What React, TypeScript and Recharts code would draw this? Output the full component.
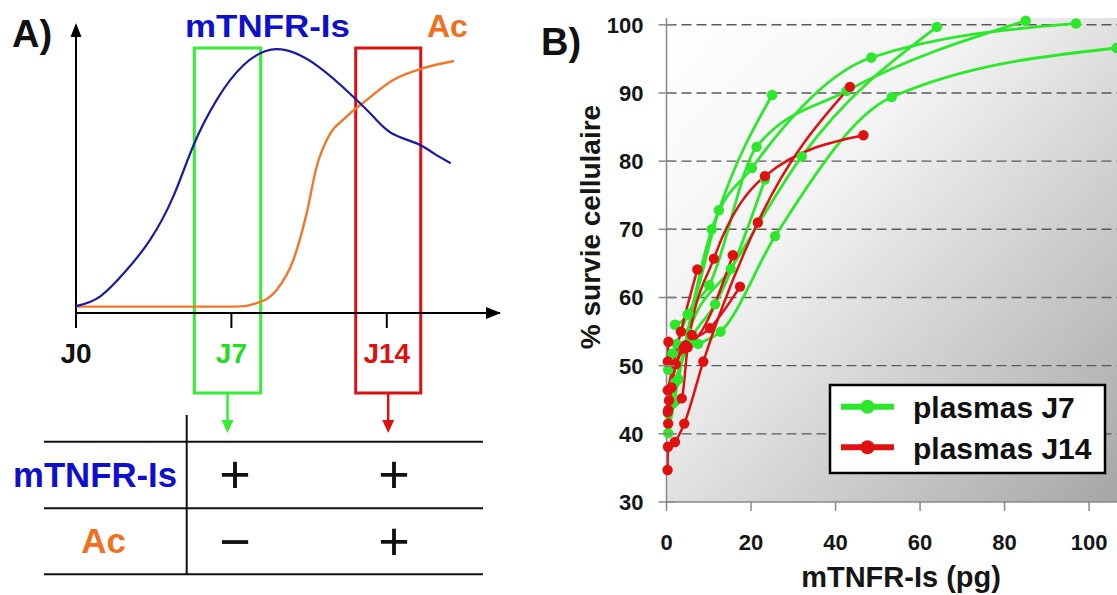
import React from 'react';
import { LineChart, Line, XAxis, YAxis, CartesianGrid, ReferenceArea, ReferenceLine } from 'recharts';

const FONT = "'Liberation Sans', Arial, Helvetica, sans-serif";

// ---------- Panel A (schematic kinetics) ----------
const kineticDays = [0, 7, 14];
const kineticLabels = ['J0', 'J7', 'J14'];
const kineticLabelColors = ['#111111', '#22dd22', '#dd1111'];
const mtnfrCurve = [
  { d: 0, v: 2.4 }, { d: 1.08, v: 5.7 }, { d: 2.28, v: 14.9 }, { d: 3.33, v: 25.3 },
  { d: 4.38, v: 40.4 }, { d: 5.28, v: 58 }, { d: 6.34, v: 74 }, { d: 7.54, v: 86 },
  { d: 9.04, v: 91.6 }, { d: 10.84, v: 86 }, { d: 12.49, v: 75.1 }, { d: 13.39, v: 68.2 },
  { d: 14.22, v: 62.4 }, { d: 15.35, v: 58.9 }, { d: 16.1, v: 55.5 }, { d: 16.88, v: 52 },
];
const acCurve = [
  { d: 0, v: 2.2 }, { d: 7.24, v: 2.2 }, { d: 8.14, v: 3.4 }, { d: 9.04, v: 8 },
  { d: 9.79, v: 18.4 }, { d: 10.39, v: 34.6 }, { d: 10.84, v: 50.8 }, { d: 11.29, v: 60 },
  { d: 12.19, v: 68.2 }, { d: 13.1, v: 74 }, { d: 14.29, v: 80.9 }, { d: 15.64, v: 85 },
  { d: 17.03, v: 87.5 },
];
const windowJ7 = [5.33, 8.32];
const windowJ14 = [12.6, 15.53];
const windowSpan = [-27.8, 92];
const tableRows = ['mTNFR-Is', 'Ac'];
const tableRowColors = ['#1010cc', '#f07020'];
const tableJ7 = ['+', '\u2212'];
const tableJ14 = ['+', '+'];

// ---------- Panel B (survival vs mTNFR-Is) ----------
const survivalTicks = [30, 40, 50, 60, 70, 80, 90, 100];
const doseTicks = [0, 20, 40, 60, 80, 100];
const legendLabels = ['plasmas J7', 'plasmas J14'];

const j7Plasma1 = [
  { x: 1.6, y: 44.5 }, { x: 5.2, y: 54.8 }, { x: 15.2, y: 64.2 }, { x: 32.0, y: 80.7 }, { x: 64.0, y: 99.7 },
];
const j7Plasma2 = [
  { x: 0.4, y: 49.4 }, { x: 2.4, y: 53.2 }, { x: 5.0, y: 57.5 }, { x: 10.1, y: 61.8 },
  { x: 21.3, y: 82.1 }, { x: 42.6, y: 90.3 }, { x: 85.0, y: 100.6 },
];
const j7Plasma3 = [
  { x: 0.4, y: 40.1 }, { x: 2.8, y: 48.0 }, { x: 10.7, y: 70.0 }, { x: 20.2, y: 79.0 },
  { x: 48.5, y: 95.2 }, { x: 96.9, y: 100.2 },
];
const j7Plasma4 = [
  { x: 1.4, y: 51.8 }, { x: 7.5, y: 53.2 }, { x: 12.8, y: 55.0 }, { x: 25.7, y: 69.0 },
  { x: 53.3, y: 89.4 }, { x: 106.5, y: 96.6 },
];
const j7Plasma5 = [
  { x: 2.0, y: 56.0 }, { x: 5.2, y: 57.6 }, { x: 12.4, y: 72.8 }, { x: 25.0, y: 89.7 },
];
const j7Plasma6 = [
  { x: 0.4, y: 43.0 }, { x: 2.0, y: 47.5 }, { x: 5.5, y: 53.5 }, { x: 11.5, y: 59.0 }, { x: 23.3, y: 77.3 },
];

const j14Plasma1 = [
  { x: 0.25, y: 34.7 }, { x: 0.35, y: 38.1 }, { x: 2.0, y: 38.8 }, { x: 4.2, y: 41.5 },
  { x: 8.7, y: 50.6 }, { x: 21.6, y: 71.0 }, { x: 43.4, y: 90.9 },
];
const j14Plasma2 = [
  { x: 0.4, y: 43.5 }, { x: 3.6, y: 45.2 }, { x: 5.0, y: 52.7 }, { x: 11.2, y: 65.7 },
  { x: 23.3, y: 77.8 }, { x: 46.6, y: 83.8 },
];
const j14Plasma3 = [
  { x: 0.3, y: 46.4 }, { x: 3.4, y: 55.0 }, { x: 7.3, y: 64.1 },
];
const j14Plasma4 = [
  { x: 0.4, y: 41.5 }, { x: 0.6, y: 44.9 }, { x: 4.0, y: 52.5 }, { x: 10.3, y: 55.5 }, { x: 17.4, y: 61.6 },
];
const j14Plasma5 = [
  { x: 0.3, y: 50.6 }, { x: 0.45, y: 53.5 }, { x: 4.5, y: 53.0 }, { x: 15.7, y: 66.2 },
];
const j14Plasma6 = [
  { x: 0.3, y: 43.2 }, { x: 1.2, y: 46.8 }, { x: 2.2, y: 50.2 }, { x: 6.0, y: 54.5 },
];

const j7Series = [j7Plasma1, j7Plasma2, j7Plasma3, j7Plasma4, j7Plasma5, j7Plasma6];
const j14Series = [j14Plasma1, j14Plasma2, j14Plasma3, j14Plasma4, j14Plasma5, j14Plasma6];

const GREEN = '#2be82b';
const RED = '#e01010';

const ATick = (props: any) => {
  const { x, y, payload } = props;
  const i = kineticDays.indexOf(payload.value);
  return (
    <g>
      <line x1={x} x2={x} y1={y} y2={y + 15} stroke="#000" strokeWidth={2} />
      <text x={x} y={y + 50} textAnchor="middle" fontSize={28} fontWeight="bold" fontFamily={FONT}
        fill={kineticLabelColors[i]}>{kineticLabels[i]}</text>
    </g>
  );
};

const BXTick = (props: any) => {
  const { x, y, payload } = props;
  return (
    <g>
      <line x1={x} x2={x} y1={y} y2={y + 9} stroke="#888" strokeWidth={1.5} />
      <text x={x} y={y + 48} textAnchor="middle" fontSize={22} fontWeight="bold" fontFamily={FONT}
        fill="#161616">{payload.value}</text>
    </g>
  );
};

const BYTick = (props: any) => {
  const { x, y, payload } = props;
  return (
    <g>
      <line x1={x - 8} x2={x + 8} y1={y} y2={y} stroke="#888" strokeWidth={1.5} />
      <text x={x - 23} y={y + 8} textAnchor="end" fontSize={22} fontWeight="bold" fontFamily={FONT}
        fill="#161616">{payload.value}</text>
    </g>
  );
};

export default function App() {
  return (
    <div style={{ position: 'absolute', left: 0, top: 0, width: 1117, height: 595, background: '#fff', overflow: 'hidden' }}>
      <svg width={0} height={0} style={{ position: 'absolute' }}>
        <defs>
          <linearGradient id="plotShade" x1="0" y1="0" x2="1" y2="1">
            <stop offset="0" stopColor="#ffffff" />
            <stop offset="0.35" stopColor="#f3f3f3" />
            <stop offset="1" stopColor="#a6a6a6" />
          </linearGradient>
        </defs>
      </svg>

      {/* Panel A */}
      <div style={{ position: 'absolute', left: 0, top: 0 }}>
        <LineChart width={520} height={595} margin={{ top: 25, right: 20, bottom: 242, left: 76 }}>
          <XAxis type="number" dataKey="d" domain={[0, 19.1]} ticks={kineticDays} interval={0} height={40}
            axisLine={{ stroke: '#000', strokeWidth: 2 }} tickLine={false} tickSize={0} tickMargin={0} tick={<ATick />} />
          <YAxis type="number" domain={[0, 100]} width={0} tick={false} tickLine={false} axisLine={false} />
          <ReferenceLine x={0} stroke="#000" strokeWidth={2} ifOverflow="visible" />
          <Line data={acCurve} dataKey="v" type="monotone" stroke="#f07828" strokeWidth={2.4} dot={false} isAnimationActive={false} />
          <Line data={mtnfrCurve} dataKey="v" type="natural" stroke="#1a1aa8" strokeWidth={2.2} dot={false} isAnimationActive={false} />
          <ReferenceArea x1={windowJ7[0]} x2={windowJ7[1]} y1={windowSpan[0]} y2={windowSpan[1]} ifOverflow="visible"
            fill="none" fillOpacity={0} stroke="#33ee33" strokeWidth={3} />
          <ReferenceArea x1={windowJ14[0]} x2={windowJ14[1]} y1={windowSpan[0]} y2={windowSpan[1]} ifOverflow="visible"
            fill="none" fillOpacity={0} stroke="#dd1111" strokeWidth={3} />
        </LineChart>
      </div>

      {/* Panel B */}
      <div style={{ position: 'absolute', left: 520, top: 0 }}>
        <LineChart width={597} height={595} margin={{ top: 18, right: 0, bottom: 43, left: 86.5 }}>
          <CartesianGrid vertical={false} horizontal={false} fill="url(#plotShade)" fillOpacity={1} />
          <XAxis type="number" dataKey="x" domain={[0, 106.6]} ticks={doseTicks} interval={0} height={50}
            axisLine={{ stroke: '#888', strokeWidth: 1.5 }} tickLine={false} tickSize={0} tickMargin={0} tick={<BXTick />} />
          <YAxis type="number" domain={[30, 101]} ticks={survivalTicks} interval={0} width={60}
            axisLine={{ stroke: '#888', strokeWidth: 1.5 }} tickLine={false} tickSize={0} tickMargin={0} tick={<BYTick />} />
          {survivalTicks.filter((t) => t > 30).map((t) => (
            <ReferenceLine key={'gl' + t} y={t} stroke="#5a5a5a" strokeDasharray="10 5" strokeWidth={1.4} />
          ))}
          {j7Series.map((s, i) => (
            <Line key={'g' + i} data={s} dataKey="y" type="monotone" stroke={GREEN} strokeWidth={2.8}
              dot={{ r: 5.2, fill: GREEN, stroke: 'none' }} isAnimationActive={false} />
          ))}
          {j14Series.map((s, i) => (
            <Line key={'r' + i} data={s} dataKey="y" type="monotone" stroke={RED} strokeWidth={2.5}
              dot={{ r: 5.2, fill: RED, stroke: 'none' }} isAnimationActive={false} />
          ))}
        </LineChart>
      </div>

      {/* Annotations */}
      <svg width={1117} height={595} style={{ position: 'absolute', left: 0, top: 0, pointerEvents: 'none' }} fontFamily={FONT}>
        {/* Panel A titles */}
        <text x={12} y={47} fontSize={38} fontWeight="bold" fill="#111">A)</text>
        <text x={185} y={37} fontSize={31} fontWeight="bold" fill="#1010cc" textLength={165} lengthAdjust="spacingAndGlyphs">mTNFR-Is</text>
        <text x={427} y={37} fontSize={32} fontWeight="bold" fill="#f07020">Ac</text>
        {/* axis arrows */}
        <polygon points="76,23 70.5,37 81.5,37" fill="#000" />
        <polygon points="501,313 486,307 486,319" fill="#000" />
        {/* arrows from windows */}
        <line x1={227.5} x2={227.5} y1={393} y2={422} stroke="#33ee33" strokeWidth={2.5} />
        <polygon points="221.5,420 233.5,420 227.5,433" fill="#33ee33" />
        <line x1={388.2} x2={388.2} y1={393} y2={422} stroke="#dd1111" strokeWidth={2.5} />
        <polygon points="382.2,420 394.2,420 388.2,433" fill="#dd1111" />
        {/* table */}
        <line x1={44} x2={483} y1={441.7} y2={441.7} stroke="#111" strokeWidth={2} />
        <line x1={44} x2={483} y1={508.3} y2={508.3} stroke="#111" strokeWidth={2} />
        <line x1={44} x2={483} y1={574.3} y2={574.3} stroke="#111" strokeWidth={2} />
        <line x1={186.7} x2={186.7} y1={415} y2={575} stroke="#111" strokeWidth={2} />
        <text x={13} y={486.7} fontSize={35} fontWeight="bold" fill={tableRowColors[0]} textLength={164} lengthAdjust="spacingAndGlyphs">{tableRows[0]}</text>
        <text x={103.5} y={552.7} fontSize={35} fontWeight="bold" fill={tableRowColors[1]} textAnchor="middle">{tableRows[1]}</text>
        <text x={235} y={493} fontSize={54} fill="#111" textAnchor="middle">{tableJ7[0]}</text>
        <text x={235} y={560} fontSize={54} fill="#111" textAnchor="middle">{tableJ7[1]}</text>
        <text x={394} y={493} fontSize={54} fill="#111" textAnchor="middle">{tableJ14[0]}</text>
        <text x={394} y={560} fontSize={54} fill="#111" textAnchor="middle">{tableJ14[1]}</text>

        {/* Panel B titles */}
        <text x={541} y={55} fontSize={38} fontWeight="bold" fill="#111">B)</text>
        <text transform="translate(600,227) rotate(-90)" textAnchor="middle" fontSize={28} fontWeight="bold" fill="#161616">% survie cellulaire</text>
        <text x={901} y={587} textAnchor="middle" fontSize={29} fontWeight="bold" fill="#161616">mTNFR-Is (pg)</text>

        {/* Legend */}
        <rect x={830} y={385} width={275} height={88} fill="#fff" stroke="#000" strokeWidth={2.5} />
        <line x1={841} x2={894} y1={406.7} y2={406.7} stroke={GREEN} strokeWidth={6} />
        <circle cx={867.5} cy={406.7} r={7} fill={GREEN} />
        <text x={913} y={418} fontSize={30} fontWeight="bold" fill="#111">{legendLabels[0]}</text>
        <line x1={841} x2={894} y1={447.3} y2={447.3} stroke={RED} strokeWidth={6} />
        <circle cx={867.5} cy={447.3} r={7} fill={RED} />
        <text x={913} y={458.6} fontSize={30} fontWeight="bold" fill="#111">{legendLabels[1]}</text>
      </svg>
    </div>
  );
}
